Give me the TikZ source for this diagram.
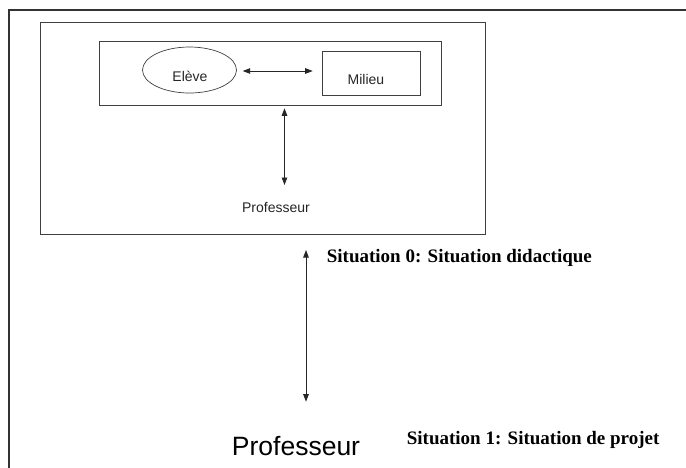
\documentclass[tikz,border=0pt]{standalone}
\usepackage{fontspec}
\setmainfont{Liberation Serif}
\newfontfamily\arial{Liberation Sans}
\usetikzlibrary{shapes.geometric,arrows.meta}
\tikzset{
  frame/.style={draw=black!80, line width=1.1pt},
  boxline/.style={draw=black!75, line width=1pt},
  arr/.style={{Triangle[length=7.5pt,width=5.5pt]}-{Triangle[length=7.5pt,width=5.5pt]}, line width=0.9pt, black!85},
  sans/.style={font=\arial\fontsize{14}{16}\selectfont, text=black!85, inner sep=0pt},
  serif/.style={font=\bfseries\fontsize{19}{22}\selectfont, inner sep=0pt, anchor=west},
}
\begin{document}
\begin{tikzpicture}[x=1pt,y=-1pt]
\useasboundingbox (0,0) rectangle (686,467);
\fill[white] (0,0) rectangle (686,467);
% page frame
\draw[frame] (9,470) -- (9,10) -- (690,10);
% big box
\node[boxline, minimum width=444.3pt, minimum height=212pt, inner sep=0pt] (big) at (262.85,128) {};
% inner box
\node[boxline, minimum width=341.5pt, minimum height=64pt, inner sep=0pt] (inner) at (270.25,73) {};
% Eleve ellipse
\node[ellipse, draw=black!75, line width=0.7pt, minimum width=94pt, minimum height=46pt, inner sep=0pt] (eleve) at (189.5,70) {};
\node[sans] (elevetxt) at (190,76) {El\`eve};
% Milieu
\node[boxline, line width=0.9pt, minimum width=98.7pt, minimum height=44pt, inner sep=0pt] (milieu) at (371.35,73.7) {};
\node[sans] (miltxt) at (366,79) {Milieu};
% Professeur small
\node[sans] (prof1) at (276,207) {Professeur};
% arrows
\coordinate (h0) at (242.7,71);
\coordinate (h1) at (312.7,71);
\draw[arr] (h0) -- (h1);
\coordinate (v0) at (284.5,108.3);
\coordinate (v1) at (284.5,185);
\draw[arr] (v0) -- (v1);
\coordinate (b0) at (306,250);
\coordinate (b1) at (306,401.7);
\draw[arr] (b0) -- (b1);
% texts
\node[serif] (sit0) at (326.7,258) {Situation 0: Situation didactique};
\node[sans, font=\arial\fontsize{26.5}{30}\selectfont, text=black] (prof2) at (296,446) {Professeur};
\node[serif] (sit1) at (406.7,440) {Situation 1: Situation de projet};
\end{tikzpicture}
\end{document}
